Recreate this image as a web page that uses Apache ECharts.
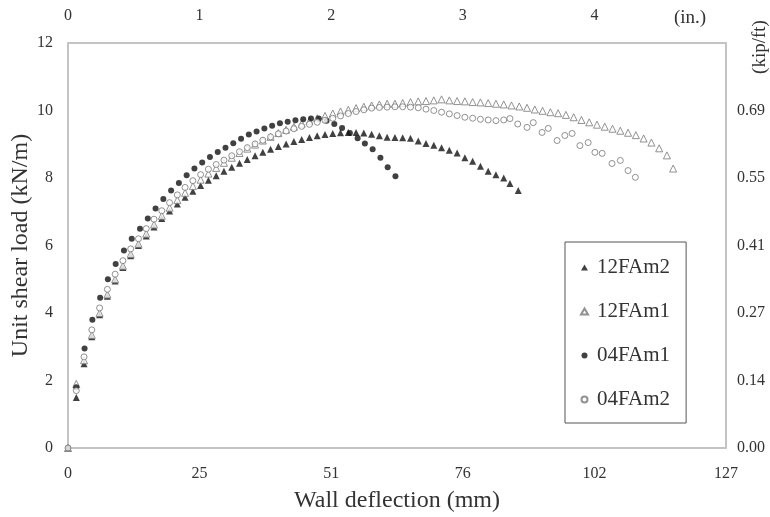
<!DOCTYPE html>
<html>
<head>
<meta charset="utf-8">
<script src="https://cdn.jsdelivr.net/npm/echarts@6/dist/echarts.min.js"></script>
<style>
  html, body { margin: 0; padding: 0; background: #fff; }
  #chart { width: 770px; height: 517px; }
</style>
</head>
<body>
<div id="chart"></div>
<script>
// tick labels
const mmTicks = ['0', '25', '51', '76', '102', '127']
const inTicks = ['0', '1', '2', '3', '4', '']
const kipTicks = ['0.00', '0.14', '0.27', '0.41', '0.55', '0.69', '']

// [wall deflection (mm), unit shear load (kN/m)]
const s12FAm2 = [
  [0, 0], [1.6, 1.5], [3.1, 2.5], [4.6, 3.3], [6.1, 3.95], [7.6, 4.5], [9.1, 4.95], [10.6, 5.35],
  [12.1, 5.7], [13.6, 6.0], [15.1, 6.28], [16.6, 6.55], [18.1, 6.8], [19.6, 7.02], [21.1, 7.23],
  [22.6, 7.43], [24.1, 7.61], [25.6, 7.78], [27.1, 7.93], [28.6, 8.07], [30.1, 8.2], [31.6, 8.32],
  [33.1, 8.44], [34.6, 8.55], [36.1, 8.66], [37.6, 8.76], [39.1, 8.85], [40.6, 8.93], [42.1, 9.01],
  [43.6, 9.08], [45.1, 9.14], [46.6, 9.2], [48.1, 9.25], [49.6, 9.29], [51.1, 9.32], [52.6, 9.34],
  [54.1, 9.35], [55.6, 9.35], [57.1, 9.33], [58.6, 9.3], [60.1, 9.25], [61.6, 9.21], [63.1, 9.2],
  [64.6, 9.19], [66.1, 9.18], [67.6, 9.1], [69.1, 9.02], [70.6, 8.97], [72.1, 8.9], [73.6, 8.82],
  [75.1, 8.74], [76.6, 8.6], [78.1, 8.5], [79.6, 8.35], [81.1, 8.2], [82.6, 8.1], [84.1, 8.0],
  [85.3, 7.84], [86.9, 7.63]
]
const s12FAm1 = [
  [0, 0], [1.6, 1.9], [3.1, 2.6], [4.6, 3.35], [6.1, 4.0], [7.6, 4.55], [9.1, 5.0], [10.6, 5.4],
  [12.1, 5.75], [13.6, 6.05], [15.1, 6.35], [16.6, 6.62], [18.1, 6.88], [19.6, 7.12], [21.1, 7.35],
  [22.6, 7.56], [24.1, 7.76], [25.6, 7.95], [27.1, 8.13], [28.6, 8.3], [30.1, 8.45], [31.6, 8.6],
  [33.1, 8.74], [34.6, 8.87], [36.1, 8.99], [37.6, 9.11], [39.1, 9.22], [40.6, 9.33], [42.1, 9.43],
  [43.6, 9.52], [45.1, 9.61], [46.6, 9.69], [48.1, 9.77], [49.6, 9.84], [51.1, 9.91], [52.6, 9.97],
  [54.1, 10.02], [55.6, 10.07], [57.1, 10.11], [58.6, 10.15], [60.1, 10.18], [61.6, 10.2],
  [63.1, 10.2], [64.6, 10.22], [66.1, 10.25], [67.6, 10.27], [69.1, 10.28], [70.6, 10.3],
  [72.1, 10.33], [73.6, 10.3], [75.1, 10.28], [76.6, 10.27], [78.1, 10.25], [79.6, 10.24],
  [81.1, 10.22], [82.6, 10.2], [84.1, 10.18], [85.6, 10.15], [87.1, 10.12], [88.6, 10.08],
  [90.1, 10.03], [91.6, 9.99], [93.1, 9.95], [94.6, 9.92], [96.1, 9.87], [97.6, 9.8], [99.1, 9.72],
  [100.6, 9.65], [102.1, 9.58], [103.6, 9.52], [105.1, 9.46], [106.6, 9.4], [108.1, 9.34],
  [109.6, 9.27], [111.1, 9.17], [112.6, 9.05], [114.1, 8.88], [115.6, 8.67], [116.8, 8.28]
]
const s04FAm1 = [
  [0, 0], [1.6, 1.8], [3.2, 2.95], [4.7, 3.8], [6.2, 4.45], [7.7, 5.0], [9.2, 5.45], [10.8, 5.85],
  [12.3, 6.2], [13.9, 6.5], [15.4, 6.8], [16.9, 7.1], [18.4, 7.38], [19.9, 7.63], [21.4, 7.85],
  [22.9, 8.08], [24.4, 8.28], [25.9, 8.46], [27.4, 8.62], [28.9, 8.77], [30.4, 8.9], [31.9, 9.03],
  [33.4, 9.16], [34.9, 9.29], [36.4, 9.38], [37.9, 9.47], [39.4, 9.55], [40.9, 9.62], [42.4, 9.67],
  [43.9, 9.71], [45.4, 9.74], [46.9, 9.76], [48.4, 9.76], [49.9, 9.7], [51.4, 9.6], [52.9, 9.48],
  [54.4, 9.33], [55.9, 9.18], [57.3, 9.02], [58.8, 8.85], [60.3, 8.6], [61.7, 8.32], [63.2, 8.05]
]
const s04FAm2 = [
  [0, 0], [1.6, 1.7], [3.1, 2.7], [4.6, 3.5], [6.1, 4.15], [7.6, 4.7], [9.1, 5.15], [10.6, 5.55],
  [12.1, 5.9], [13.6, 6.2], [15.1, 6.5], [16.6, 6.78], [18.1, 7.03], [19.6, 7.27], [21.1, 7.5],
  [22.6, 7.72], [24.1, 7.92], [25.6, 8.1], [27.1, 8.26], [28.6, 8.4], [30.1, 8.53], [31.6, 8.66],
  [33.1, 8.78], [34.6, 8.9], [36.1, 9.01], [37.6, 9.12], [39.1, 9.22], [40.6, 9.31], [42.1, 9.39],
  [43.6, 9.46], [45.1, 9.53], [46.6, 9.59], [48.1, 9.65], [49.6, 9.71], [51.1, 9.77], [52.6, 9.84],
  [54.1, 9.91], [55.6, 9.97], [57.1, 10.02], [58.6, 10.07], [60.1, 10.09], [61.6, 10.1],
  [63.1, 10.11], [64.6, 10.11], [66.1, 10.1], [67.6, 10.08], [69.1, 10.04], [70.6, 10.0],
  [72.1, 9.95], [73.6, 9.9], [75.1, 9.85], [76.6, 9.8], [78.1, 9.77], [79.6, 9.74], [81.1, 9.72],
  [82.6, 9.7], [84.1, 9.72], [85.3, 9.76], [86.8, 9.6], [88.6, 9.5], [89.8, 9.64], [91.5, 9.35],
  [92.7, 9.47], [94.4, 9.11], [95.9, 9.26], [97.3, 9.32], [98.8, 8.96], [100.4, 9.05],
  [101.7, 8.76], [103.1, 8.73], [105.0, 8.43], [106.6, 8.52], [108.1, 8.22], [109.5, 8.02]
]

const FONT = 'Liberation Serif'
const axisGray = '#c4c4c4'

const chart = echarts.init(document.getElementById('chart'))

const tickLabel = {fontFamily: FONT, fontSize: 16, color: '#333'}

chart.setOption({
  backgroundColor: '#fff',
  animation: false,
  grid: {left: 68, right: 44, top: 43, bottom: 69, containLabel: false, outerBoundsMode: 'none'},
  legend: {
    orient: 'vertical',
    left: 565,
    top: 242,
    padding: [15, 16, 13, 15],
    itemGap: 23,
    itemWidth: 7,
    itemHeight: 6,
    borderColor: '#555',
    borderWidth: 1,
    textStyle: {fontFamily: FONT, fontSize: 21, color: '#333', padding: [0, 0, 0, 4]},
    data: ['12FAm2', '12FAm1', '04FAm1', '04FAm2'],
  },
  xAxis: [
    {
      type: 'value',
      position: 'bottom',
      min: 0,
      max: 127,
      interval: 25.4,
      axisLine: {show: true, lineStyle: {color: axisGray, width: 2}},
      axisTick: {show: false},
      splitLine: {show: false},
      axisLabel: {
        ...tickLabel,
        margin: 18,
        formatter: v => mmTicks[Math.round(v / 25.4)],
      },
      name: 'Wall deflection (mm)',
      nameLocation: 'middle',
      nameGap: 41,
      nameMoveOverlap: false,
      nameTextStyle: {fontFamily: FONT, fontSize: 24, color: '#333'},
    },
    {
      type: 'value',
      position: 'top',
      min: 0,
      max: 5,
      interval: 1,
      axisLine: {show: true, onZero: false, lineStyle: {color: axisGray, width: 2}},
      axisTick: {show: false},
      splitLine: {show: false},
      axisLabel: {...tickLabel, margin: 19, formatter: v => inTicks[Math.round(v)]},
    },
  ],
  yAxis: [
    {
      type: 'value',
      position: 'left',
      min: 0,
      max: 12,
      interval: 2,
      axisLine: {show: true, onZero: false, lineStyle: {color: axisGray, width: 2}},
      axisTick: {show: false},
      splitLine: {show: false},
      axisLabel: {...tickLabel, margin: 15},
      name: 'Unit shear load (kN/m)',
      nameLocation: 'middle',
      nameGap: 35,
      nameMoveOverlap: false,
      nameTextStyle: {fontFamily: FONT, fontSize: 24, color: '#333'},
    },
    {
      type: 'value',
      position: 'right',
      min: 0,
      max: 12,
      interval: 2,
      axisLine: {show: true, onZero: false, lineStyle: {color: axisGray, width: 2}},
      axisTick: {show: false},
      splitLine: {show: false},
      axisLabel: {...tickLabel, margin: 11, formatter: v => kipTicks[Math.round(v / 2)]},
    },
  ],
  graphic: [
    {
      type: 'text', x: 690, y: 18,
      style: {text: '(in.)', font: '19px "Liberation Serif"', fill: '#333', align: 'center', verticalAlign: 'middle'},
    },
    {
      type: 'text', x: 760, y: 47, rotation: Math.PI / 2,
      style: {text: '(kip/ft)', font: '19px "Liberation Serif"', fill: '#333', align: 'center', verticalAlign: 'middle'},
    },
  ],
  series: [
    {
      name: '12FAm2', type: 'scatter', data: s12FAm2,
      symbol: 'triangle', symbolSize: 7,
      itemStyle: {color: '#111'},
    },
    {
      name: '12FAm1', type: 'scatter', data: s12FAm1,
      symbol: 'triangle', symbolSize: 7,
      itemStyle: {color: '#fff', borderColor: '#777', borderWidth: 1},
    },
    {
      name: '04FAm1', type: 'scatter', data: s04FAm1,
      symbol: 'circle', symbolSize: 6,
      itemStyle: {color: '#111'},
    },
    {
      name: '04FAm2', type: 'scatter', data: s04FAm2,
      symbol: 'circle', symbolSize: 6,
      itemStyle: {color: '#fff', borderColor: '#777', borderWidth: 1},
    },
  ],
})
</script>
</body>
</html>
